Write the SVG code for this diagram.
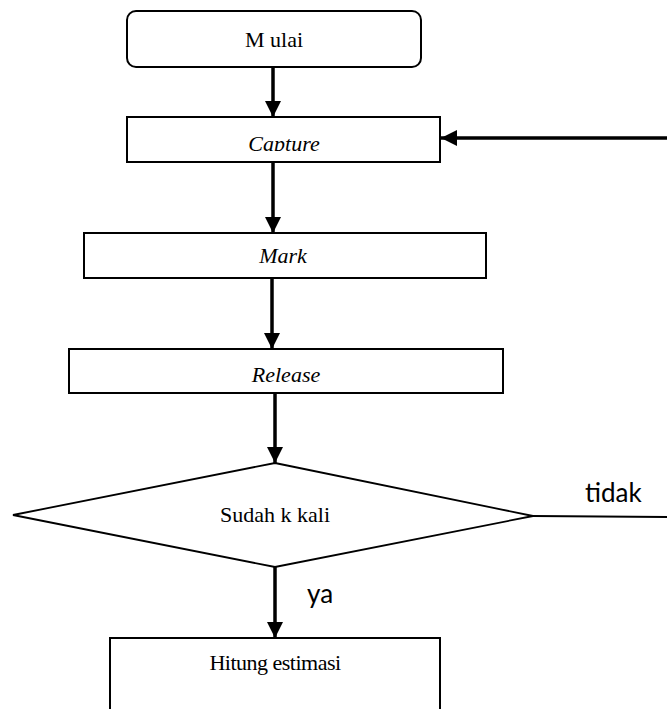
<svg xmlns="http://www.w3.org/2000/svg" width="667" height="709" viewBox="0 0 667 709">
<style>
.box{fill:#fff;stroke:#000;stroke-width:2}
.dia{fill:#fff;stroke:#000;stroke-width:1.8}
.t{font-family:"Liberation Serif","Times New Roman",serif;font-size:22px;fill:#000;text-anchor:middle}
.i{font-style:italic}
.s{font-family:Lato,"Open Sans",sans-serif;font-size:26px;fill:#000}
.c{stroke:#000;stroke-width:3.5;fill:none}
.thin{stroke:#000;stroke-width:1.8;fill:none}
</style>
<defs>
<marker id="ah" viewBox="0 0 16 16" refX="16" refY="8" markerWidth="16" markerHeight="16" markerUnits="userSpaceOnUse" orient="auto">
<path d="M0,0 L16,8 L0,16 Z" fill="#000"/>
</marker>
<clipPath id="capclip"><rect x="127" y="117" width="313" height="34"/></clipPath>
</defs>
<g id="connectors">
<line class="c" x1="273" y1="67" x2="273" y2="117" marker-end="url(#ah)"/>
<line class="c" x1="667" y1="138" x2="441" y2="138" marker-end="url(#ah)"/>
<line class="c" x1="273" y1="162" x2="273" y2="233" marker-end="url(#ah)"/>
<line class="c" x1="272" y1="278" x2="272" y2="349" marker-end="url(#ah)"/>
<line class="c" x1="275" y1="393" x2="275" y2="463" marker-end="url(#ah)"/>
<line class="c" x1="275" y1="567" x2="275" y2="638" marker-end="url(#ah)"/>
<line class="thin" x1="533" y1="516" x2="667" y2="517"/>
<text class="s" x="585" y="502">tidak</text>
<text class="s" x="307" y="603">ya</text>
</g>
<g id="mulai">
<rect class="box" x="127" y="11" width="294" height="56" rx="9"/>
<text class="t" x="274" y="47">M ulai</text>
</g>
<g id="capture">
<rect class="box" x="127" y="117" width="313" height="45"/>
<text class="t i" x="284" y="151" clip-path="url(#capclip)">Capture</text>
</g>
<g id="mark">
<rect class="box" x="84" y="233" width="402" height="45"/>
<text class="t i" x="283" y="263">Mark</text>
</g>
<g id="release">
<rect class="box" x="69" y="349" width="434" height="44"/>
<text class="t i" x="286" y="382">Release</text>
</g>
<g id="decision">
<polygon class="dia" points="275,463 533,516 275,567 13,515"/>
<text class="t" x="275" y="522" font-size="20">Sudah k kali</text>
</g>
<g id="hitung">
<rect class="box" x="110" y="638" width="330" height="90"/>
<text class="t" x="275" y="670" letter-spacing="-0.5">Hitung estimasi</text>
</g>
</svg>
